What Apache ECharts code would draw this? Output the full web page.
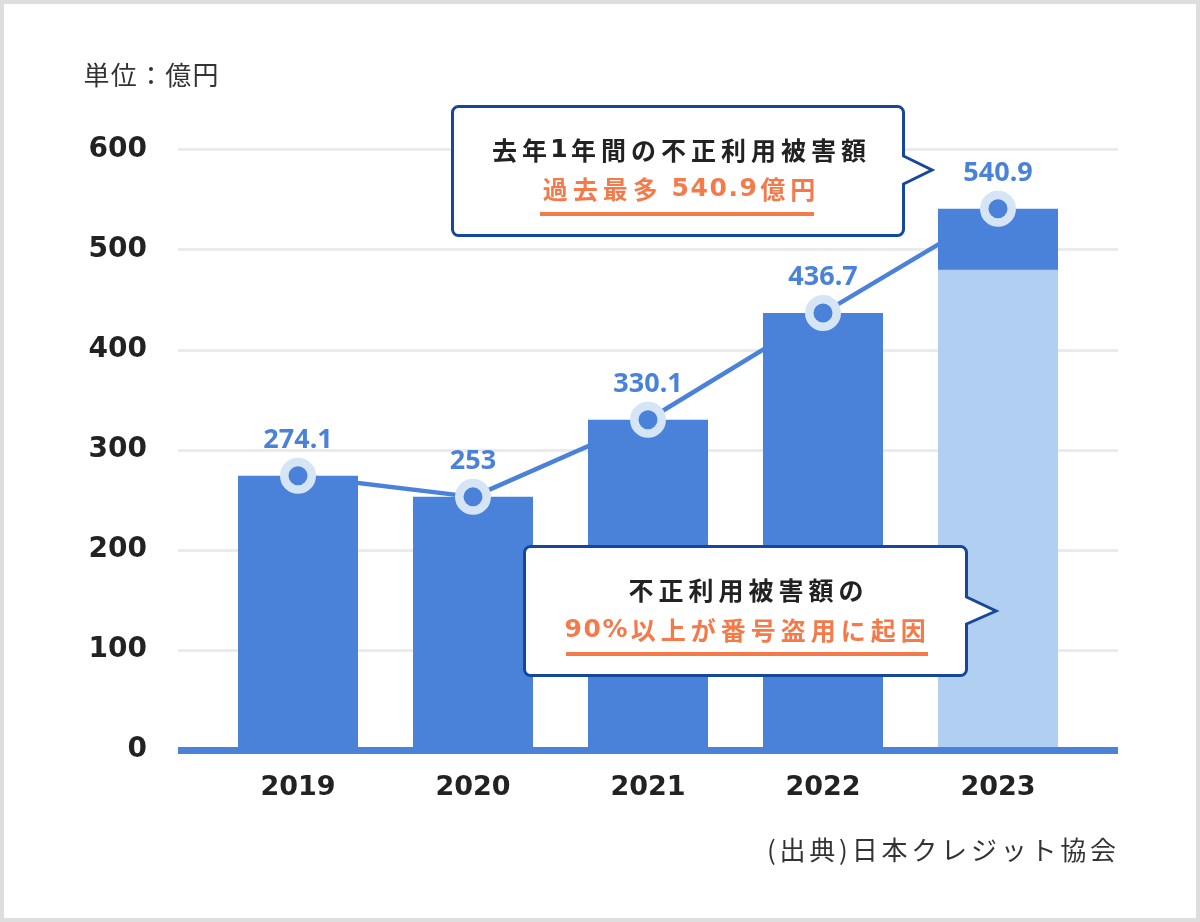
<!DOCTYPE html>
<html>
<head>
<meta charset="utf-8">
<script src="https://cdn.jsdelivr.net/npm/echarts@6/dist/echarts.min.js"></script>
<style>
html,body{margin:0;padding:0;background:#fff;}
#chart{width:1200px;height:922px;}
</style>
</head>
<body>
<div id="chart"></div>
<script>
// ---- data ----
const categories = ['2019', '2020', '2021', '2022', '2023'];
const damage = [274.1, 253, 330.1, 436.7, 540.9];      // 不正利用被害額 (億円)
const theftPart = [null, null, null, null, 480];        // うち番号盗用 (approx.)
const yMin = 0, yMax = 600, yInterval = 100;
const unitText = '単位：億円';
const sourceText = '(出典)日本クレジット協会';
const callout1 = ['去年1年間の不正利用被害額', '過去最多 540.9億円'];
const callout2 = ['不正利用被害額の', '90%以上が番号盗用に起因'];

// ---- style ----
const BLUE = '#4a82d9', LIGHT = '#b1cff1', RING = '#d5e5f5', NAVY = '#15489a', ORANGE = '#f47a4a', INK = '#222';
const CJK = '"Noto Sans CJK JP", "Noto Sans", sans-serif';
const LAT = '"DejaVu Sans", sans-serif';

function spaced(str, tag) {
  return Array.from(str).map(ch => {
    const t = /[\x00-\x7f]/.test(ch) ? tag + 'n' : tag;
    return '{' + t + '|' + ch + '}';
  }).join('');
}
function richPair(tag, cjkStyle, latStyle) {
  return { [tag]: cjkStyle, [tag + 'n']: latStyle };
}
function calloutText(x, y, str, color, tag) {
  return {
    type: 'text', z: 102,
    style: {
      x: x, y: y, text: spaced(str, tag), textAlign: 'center', textVerticalAlign: 'middle',
      rich: richPair(tag,
        { fontSize: 25, fontWeight: 'bold', fontFamily: CJK, fill: color, padding: [0, 2.5, 0, 2.5], lineHeight: 30 },
        { fontSize: 25, fontWeight: 'bold', fontFamily: LAT, fill: color, padding: [0, 0.8, 0, 0.8], lineHeight: 30 })
    }
  };
}
function calloutBox(x1, y1, x2, y2, pTop, pTip, pBot, tipX) {
  return [
    { type: 'rect', z: 100, shape: { x: x1, y: y1, width: x2 - x1, height: y2 - y1, r: 6 },
      style: { fill: '#fff', stroke: NAVY, lineWidth: 3 } },
    { type: 'polygon', z: 101, shape: { points: [[x2 - 3, pTop], [x2, pTop], [tipX, pTip], [x2, pBot], [x2 - 3, pBot]] },
      style: { fill: '#fff', stroke: null } },
    { type: 'polyline', z: 101, shape: { points: [[x2, pTop - 1], [tipX, pTip], [x2, pBot + 1]] },
      style: { fill: null, stroke: NAVY, lineWidth: 3, lineJoin: 'miter' } }
  ];
}

const chart = echarts.init(document.getElementById('chart'), null, { renderer: 'canvas' });
const option = {
  animation: false,
  backgroundColor: '#fff',
  grid: { left: 178, right: 82, top: 149.7, bottom: 172, containLabel: false, outerBoundsMode: 'none' },
  xAxis: {
    type: 'value', min: -0.6857, max: 4.6857, z: 3,
    splitLine: { show: false }, axisTick: { show: false },
    axisLine: { show: true, onZero: false, lineStyle: { color: BLUE, width: 7, cap: 'butt' } },
    axisLabel: {
      customValues: categories.map((c, i) => i),
      formatter: v => categories[Math.round(v)] || '',
      fontSize: 27, fontWeight: 'bold', color: INK, fontFamily: LAT, margin: 24
    }
  },
  yAxis: {
    type: 'value', min: yMin, max: yMax, interval: yInterval,
    axisLine: { show: false }, axisTick: { show: false },
    splitLine: { lineStyle: { color: '#ebebeb', width: 3 } },
    axisLabel: { fontSize: 28, fontWeight: 'bold', color: INK, fontFamily: LAT, margin: 31, lineHeight: 28, padding: [7, 0, 0, 0] }
  },
  series: [
    {
      type: 'bar', barWidth: 120, barGap: '-100%',
      data: damage.map((v, i) => [i, v]),
      itemStyle: { color: BLUE }, emphasis: { disabled: true }
    },
    {
      type: 'bar', barWidth: 120, barGap: '-100%',
      data: theftPart.map((v, i) => [i, v]),
      itemStyle: { color: LIGHT }, emphasis: { disabled: true }
    },
    {
      type: 'line', z: 5,
      data: damage.map((v, i) => [i, v]),
      lineStyle: { color: BLUE, width: 4.5 },
      symbol: 'circle', symbolSize: 27.5,
      itemStyle: { color: BLUE, borderColor: RING, borderWidth: 8.5 },
      label: {
        show: true, position: 'top', distance: 4,
        formatter: p => String(p.value[1]),
        color: BLUE, fontSize: 27, fontWeight: 'bold', fontFamily: '"Noto Sans", sans-serif'
      },
      emphasis: { disabled: true }
    }
  ],
  graphic: [
    { type: 'rect', z: 200, silent: true, shape: { x: 2, y: 2, width: 1196, height: 918 },
      style: { fill: null, stroke: '#dedede', lineWidth: 4 } },
    { type: 'text', z: 100, style: { x: 83, y: 75, text: spaced(unitText, 'u'), textVerticalAlign: 'middle',
      rich: richPair('u', { fontSize: 26, fontFamily: CJK, fill: '#333', padding: [0, 0.6, 0, 0.6] },
                          { fontSize: 26, fontFamily: CJK, fill: '#333', padding: [0, 0.6, 0, 0.6] }) } },
    { type: 'text', z: 100, style: { x: 1118, y: 850, text: spaced(sourceText, 'c'), textAlign: 'right', textVerticalAlign: 'middle',
      rich: richPair('c', { fontSize: 26, fontFamily: CJK, fill: '#333', padding: [0, 1.9, 0, 1.9] },
                          { fontSize: 26, fontFamily: CJK, fill: '#333', padding: [0, 1.9, 0, 1.9] }) } },
    ...calloutBox(452.5, 106.5, 903.5, 235.5, 157, 170, 183, 932),
    calloutText(679, 150, callout1[0], INK, 'a'),
    calloutText(679, 189, callout1[1], ORANGE, 'b'),
    { type: 'line', z: 102, shape: { x1: 540, y1: 214, x2: 814, y2: 214 }, style: { stroke: ORANGE, lineWidth: 4 } },
    ...calloutBox(524.5, 546.5, 966.5, 675.5, 598, 611, 623, 996),
    calloutText(746, 590, callout2[0], INK, 'd'),
    calloutText(746, 630, callout2[1], ORANGE, 'e'),
    { type: 'line', z: 102, shape: { x1: 566, y1: 654, x2: 928, y2: 654 }, style: { stroke: ORANGE, lineWidth: 4 } }
  ]
};
chart.setOption(option);
</script>
</body>
</html>
